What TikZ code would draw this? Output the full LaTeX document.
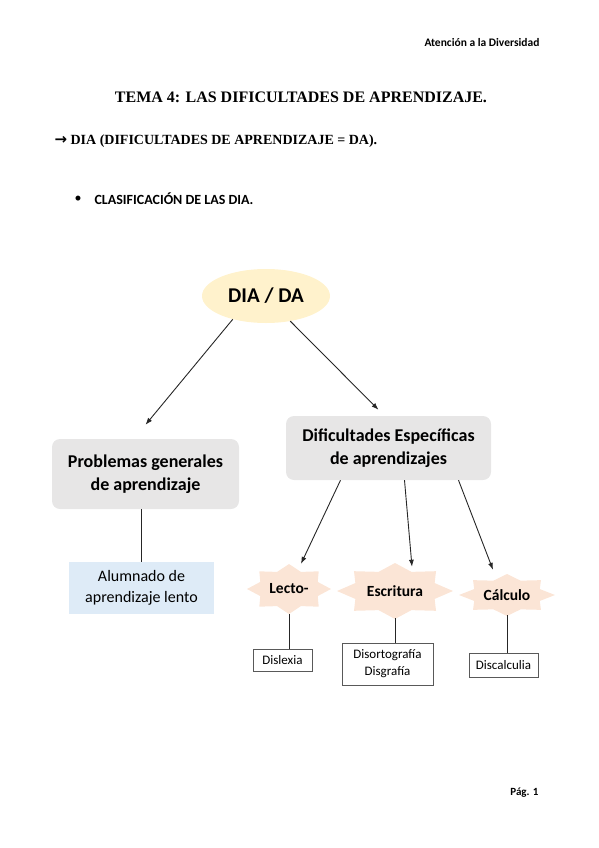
\documentclass[tikz,border=0pt]{standalone}
\usepackage{fontspec}
\setmainfont{Carlito}
\newfontfamily\timesb{Liberation Serif Bold}
\newfontfamily\arrowfont{DejaVu Sans Bold}
\usetikzlibrary{arrows.meta,shapes.geometric}

\definecolor{diayellow}{HTML}{FFF2CC}
\definecolor{boxgrey}{HTML}{E7E6E6}
\definecolor{boxblue}{HTML}{DEEBF7}
\definecolor{starfill}{HTML}{FBE5D6}

\tikzset{
  arr/.style={-{Latex[length=7pt,width=5pt]}, line width=0.9pt, black!85},
  stem/.style={line width=0.9pt, black!85},
  greybox/.style={fill=boxgrey, rounded corners=8pt, inner sep=0pt, align=center, font=\fontsize{18}{23}\selectfont\bfseries},
  leafbox/.style={draw=black!65, line width=0.8pt, fill=white, inner sep=0pt, align=center, font=\fontsize{13}{17}\selectfont},
  starlabel/.style={inner sep=0pt, font=\fontsize{15.5}{18}\selectfont\bfseries}
}

\begin{document}
\begin{tikzpicture}[x=1pt,y=-1pt]
    \useasboundingbox (0,0) rectangle (599,848);
    % page texts
    \node[anchor=east, font=\fontsize{11.5}{13}\selectfont\bfseries] (header) at (543,43) {Atención a la Diversidad};
    \node[font=\timesb\fontsize{16}{18}\selectfont] (title) at (301,97) {TEMA 4: LAS DIFICULTADES DE APRENDIZAJE.};
    \node[anchor=west, font=\timesb\fontsize{14}{16}\selectfont] (sub) at (51,141) {{\arrowfont\fontsize{15}{16}\selectfont →} DIA (DIFICULTADES DE APRENDIZAJE = DA).};
    \node[font=\fontsize{14}{16}\selectfont] (bullet) at (78,199) {•};
    \node[anchor=west, font=\fontsize{14}{16}\selectfont\bfseries] (clasif) at (91,199) {CLASIFICACIÓN DE LAS DIA.};
    \node[anchor=east, font=\fontsize{11}{13}\selectfont\bfseries] (pag) at (542,793) {Pág. 1};
    % root
    \node[ellipse, fill=diayellow, minimum width=128, minimum height=54, inner sep=0pt, font=\fontsize{21}{24}\selectfont\bfseries] (dia) at (266,296) {DIA / DA};
    % two branches
    \node[greybox, minimum width=187, minimum height=70] (prob) at (145.5,474) {Problemas generales\\de aprendizaje};
    \node[greybox, minimum width=205, minimum height=64] (dif) at (388.5,448) {Dificultades Específicas\\de aprendizajes};
    \node[fill=boxblue, minimum width=145, minimum height=52, inner sep=0pt, align=center, font=\fontsize{16}{21}\selectfont] (alum) at (141.5,588) {Alumnado de\\aprendizaje lento};
    % stars
    \foreach \cx/\cy/\rx/\ry in {289/589/42/25, 395/591/58/28, 507/595/48/21}
        \fill[starfill, shift={(\cx,\cy)}] (0:{\rx} and {\ry}) \foreach \a in {0,45,...,315}{ -- ({\a+22.5}:{0.74*\rx} and {0.74*\ry}) -- ({\a+45}:{\rx} and {\ry})} -- cycle;
    \node[starlabel, minimum width=84, minimum height=50] (lecto) at (289,589) {Lecto-};
    \node[starlabel, minimum width=116, minimum height=54] (escr) at (395,591) {Escritura};
    \node[starlabel, minimum width=96, minimum height=40] (calc) at (507,595) {Cálculo};
    % leaves
    \node[leafbox, minimum width=59, minimum height=22] (dislexia) at (282.5,660) {Dislexia};
    \node[leafbox, minimum width=91, minimum height=42] (disort) at (387.5,664) {Disortografía\\Disgrafía};
    \node[leafbox, minimum width=69, minimum height=24] (discalc) at (503.5,665) {Discalculia};
    % connectors
    \draw[arr] (dia.215) -- ([yshift=14]prob.north);
    \draw[arr] (dia.314) -- ([xshift=-10,yshift=6]dif.north);
    \draw[stem] (alum.north |- prob.south) -- (alum.north);
    \draw[arr] ([xshift=-48]dif.south) -- ([xshift=12]lecto.north);
    \draw[arr] ([xshift=16]dif.south) -- ([xshift=17,yshift=-3]escr.north);
    \draw[arr] ([xshift=70]dif.south) -- ([xshift=-14,yshift=5]calc.north);
    \draw[stem] (lecto.south) -- (lecto.south |- dislexia.north);
    \draw[stem] (escr.south) -- (escr.south |- disort.north);
    \draw[stem] (calc.south) -- (calc.south |- discalc.north);
\end{tikzpicture}
\end{document}
